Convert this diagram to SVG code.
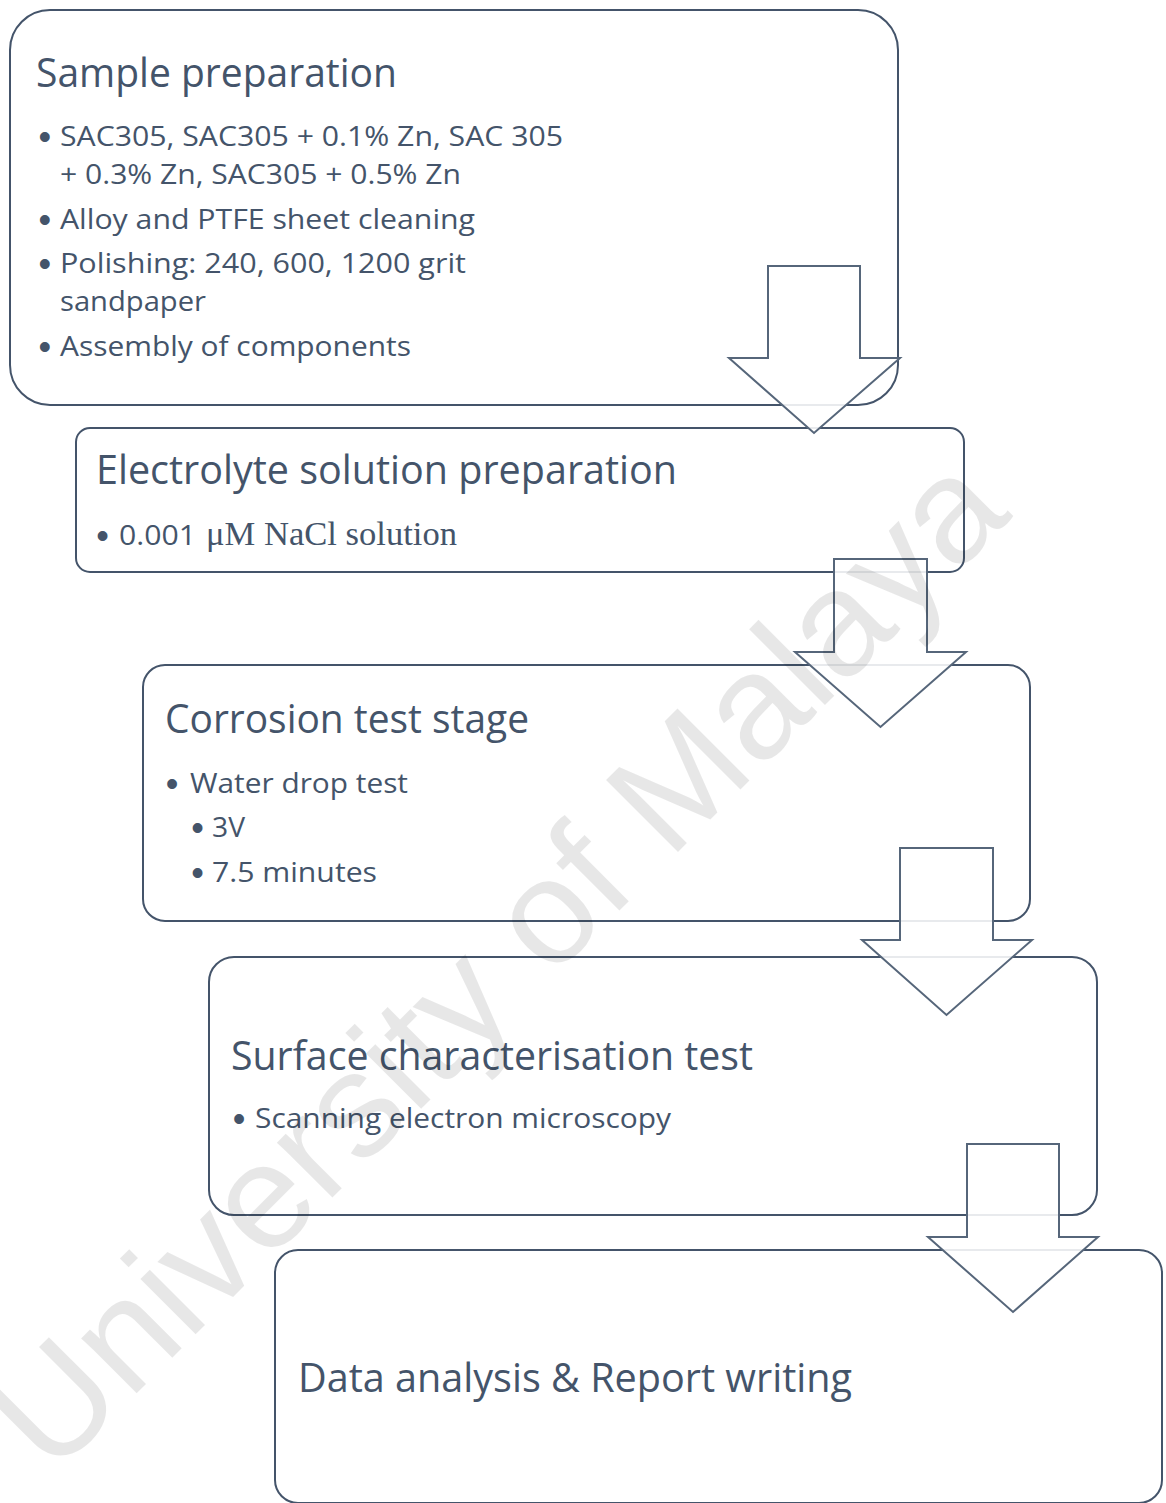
<svg xmlns="http://www.w3.org/2000/svg" width="1166" height="1503" viewBox="0 0 1166 1503">
  <style>
    .box { fill: none; stroke: #44546a; stroke-width: 2; }
    .ttl { font-family: "Open Sans", "Noto Sans", sans-serif; font-size: 40px; fill: #44546a; }
    .itm { font-family: "Open Sans", "Noto Sans", sans-serif; font-size: 27px; fill: #44546a; }
    .ser { font-family: "Liberation Serif", "Times New Roman", serif; font-size: 34px; fill: #44546a; }
    .bul { font-family: "Liberation Sans", Arial, sans-serif; font-size: 36px; fill: #44546a; text-anchor: middle; }
    .arr { fill: #ffffff; fill-opacity: 0.88; stroke: #56667a; stroke-width: 2; stroke-linejoin: miter; }
    .wm { font-family: "Liberation Sans", Arial, sans-serif; font-size: 148px; fill: #000000; fill-opacity: 0.095; }
  </style>
  <rect x="0" y="0" width="1166" height="1503" fill="#ffffff"/>

  <g id="node-sample-preparation">
    <rect class="box" x="10" y="10" width="888" height="395" rx="40" ry="40"/>
    <text class="ttl" x="36" y="87" textLength="361" lengthAdjust="spacingAndGlyphs">Sample preparation</text>
    <text class="bul" x="44.7" y="149">•</text>
    <text class="itm" x="60" y="146" textLength="503" lengthAdjust="spacingAndGlyphs">SAC305, SAC305 + 0.1% Zn, SAC 305</text>
    <text class="itm" x="60" y="184" textLength="401" lengthAdjust="spacingAndGlyphs">+ 0.3% Zn, SAC305 + 0.5% Zn</text>
    <text class="bul" x="44.7" y="232">•</text>
    <text class="itm" x="60" y="229" textLength="415" lengthAdjust="spacingAndGlyphs">Alloy and PTFE sheet cleaning</text>
    <text class="bul" x="44.7" y="276">•</text>
    <text class="itm" x="60" y="273" textLength="406" lengthAdjust="spacingAndGlyphs">Polishing: 240, 600, 1200 grit</text>
    <text class="itm" x="60" y="311" textLength="146" lengthAdjust="spacingAndGlyphs">sandpaper</text>
    <text class="bul" x="44.7" y="359">•</text>
    <text class="itm" x="60" y="356" textLength="351" lengthAdjust="spacingAndGlyphs">Assembly of components</text>
  </g>

  <g id="node-electrolyte">
    <rect class="box" x="76" y="428" width="888" height="144" rx="14" ry="14"/>
    <text class="ttl" x="96" y="484" textLength="581" lengthAdjust="spacingAndGlyphs">Electrolyte solution preparation</text>
    <text class="bul" x="102.5" y="548">•</text>
    <text class="itm" x="119" y="545" textLength="77" lengthAdjust="spacingAndGlyphs">0.001</text>
    <text class="ser" x="206" y="545" textLength="251" lengthAdjust="spacingAndGlyphs">μM NaCl solution</text>
  </g>

  <g id="node-corrosion">
    <rect class="box" x="143" y="665" width="887" height="256" rx="22" ry="22"/>
    <text class="ttl" x="165" y="733" textLength="364" lengthAdjust="spacingAndGlyphs">Corrosion test stage</text>
    <text class="bul" x="172" y="796">•</text>
    <text class="itm" x="190" y="793" textLength="218" lengthAdjust="spacingAndGlyphs">Water drop test</text>
    <text class="bul" x="197.5" y="840">•</text>
    <text class="itm" x="212" y="837" textLength="33" lengthAdjust="spacingAndGlyphs">3V</text>
    <text class="bul" x="197.5" y="885">•</text>
    <text class="itm" x="212" y="882" textLength="165" lengthAdjust="spacingAndGlyphs">7.5 minutes</text>
  </g>

  <g id="node-surface">
    <rect class="box" x="209" y="957" width="888" height="258" rx="25" ry="25"/>
    <text class="ttl" x="231" y="1070" textLength="522" lengthAdjust="spacingAndGlyphs">Surface characterisation test</text>
    <text class="bul" x="239" y="1131">•</text>
    <text class="itm" x="255" y="1128" textLength="416" lengthAdjust="spacingAndGlyphs">Scanning electron microscopy</text>
  </g>

  <g id="node-data-analysis">
    <rect class="box" x="275" y="1250" width="887" height="253" rx="23" ry="23"/>
    <text class="ttl" x="298" y="1392" textLength="554" lengthAdjust="spacingAndGlyphs">Data analysis &amp; Report writing</text>
  </g>

  <g id="connectors">
    <path class="arr" d="M768,266 H860 V358 H900 L814,433 L729,358 H768 Z"/>
    <path class="arr" d="M834,559 H927 V652 H966 L880.5,727 L795,652 H834 Z"/>
    <path class="arr" d="M900,848 H993 V940 H1032 L946.5,1015 L862,940 H900 Z"/>
    <path class="arr" d="M967,1144 H1059 V1237 H1098 L1013,1312 L928,1237 H967 Z"/>
  </g>

  <text class="wm" transform="translate(52,1478) rotate(-45)" textLength="1360" lengthAdjust="spacingAndGlyphs">University of Malaya</text>
</svg>
